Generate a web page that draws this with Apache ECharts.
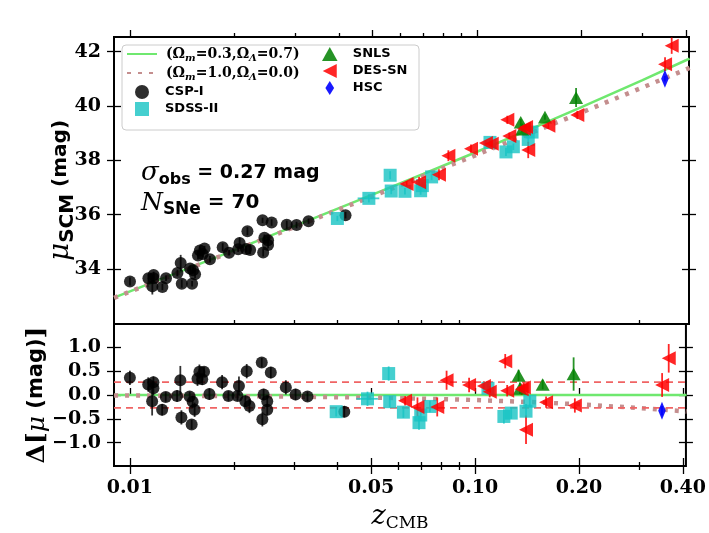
<!DOCTYPE html>
<html><head><meta charset="utf-8">
<script src="https://cdn.jsdelivr.net/npm/echarts@6/dist/echarts.min.js"></script>
<style>html,body{margin:0;padding:0;background:#fff}#c{width:709px;height:533px}</style>
</head><body><div id="c"></div>
<script>
// ---------------- data ----------------
const cspZ   = [0.0100,0.0113,0.0117,0.0117,0.0116,0.0124,0.0127,0.0137,0.0140,0.0141,0.0149,0.0152,0.0154,0.0151,0.0157,0.0159,0.0164,0.0170,0.0185,0.0193,0.0205,0.0207,0.0218,0.0216,0.0222,0.0241,0.0256,0.0244,0.0250,0.0250,0.0242,0.0283,0.0302,0.0327,0.0418,0.0162];
const cspMu  = [33.54,33.66,33.78,33.66,33.36,33.34,33.66,33.85,34.22,33.46,34.02,33.95,33.81,33.46,34.50,34.68,34.75,34.36,34.80,34.60,34.73,34.96,35.39,34.74,34.70,35.79,35.71,35.15,35.06,34.88,34.61,35.63,35.62,35.76,35.98,34.55];
const cspRes = [0.36,0.22,0.27,0.14,-0.13,-0.31,-0.04,-0.02,0.31,-0.47,-0.03,-0.14,-0.31,-0.62,0.34,0.49,0.49,0.02,0.27,-0.02,-0.02,0.19,0.50,-0.13,-0.23,0.68,0.47,0.01,-0.13,-0.31,-0.51,0.16,0.01,-0.03,-0.35,0.33];
const cspErr = [0.15,0.15,0.12,0.15,0.30,0.12,0.10,0.12,0.30,0.15,0.10,0.12,0.15,0.10,0.15,0.15,0.10,0.12,0.15,0.10,0.10,0.20,0.15,0.12,0.15,0.10,0.12,0.12,0.12,0.12,0.15,0.15,0.12,0.10,0.12,0.12];

const sdssZ    = [0.0396,0.0488,0.0562,0.0566,0.0620,0.0688,0.0696,0.0740,0.1090,0.1212,0.1273,0.1405,0.1441];
const sdssMu   = [35.86,36.60,37.45,36.87,36.86,36.88,37.07,37.39,38.66,38.31,38.50,38.77,39.04];
const sdssRes  = [-0.35,-0.08,0.45,-0.14,-0.36,-0.58,-0.42,-0.24,0.14,-0.45,-0.38,-0.34,-0.13];
const sdssErr  = [0.10,0.15,0.15,0.12,0.12,0.15,0.12,0.12,0.10,0.15,0.12,0.15,0.12];
const sdssZErr = [0,0.0035,0,0,0,0,0,0,0,0,0,0,0];

const snlsZ   = [0.1337,0.1349,0.1570,0.1930];
const snlsMu  = [39.40,39.15,39.59,40.31];
const snlsRes = [0.41,0.14,0.22,0.44];
const snlsErr = [0.12,0.12,0.10,0.35];

const desZ   = [0.0627,0.0681,0.0777,0.0827,0.0961,0.1061,0.1103,0.1223,0.1239,0.1365,0.1385,0.1405,0.1606,0.1946,0.3483,0.3640];
const desMu  = [37.13,37.19,37.47,38.17,38.43,38.64,38.61,39.49,38.90,39.16,39.23,38.38,39.27,39.67,41.54,42.22];
const desRes = [-0.12,-0.25,-0.25,0.31,0.21,0.19,0.07,0.71,0.09,0.12,0.16,-0.73,-0.15,-0.22,0.21,0.77];
const desErr = [0.10,0.20,0.20,0.20,0.15,0.10,0.12,0.15,0.12,0.12,0.10,0.30,0.12,0.15,0.25,0.30];

const hscZ   = [0.3480];
const hscMu  = [41.00];
const hscRes = [-0.33];
const hscErr = [0.10];

// model curves
const modelZ   = [0.009,0.01,0.02,0.03,0.05,0.07,0.10,0.15,0.20,0.30,0.40,0.41];
const muLCDM   = [32.944,33.175,34.697,35.594,36.735,37.496,38.315,39.266,39.956,40.956,41.684,41.748];
const muEdS    = [32.935,33.164,34.675,35.560,36.680,37.420,38.210,39.114,39.760,40.682,41.344,41.401];
const resLCDM  = [0,0,0,0,0,0,0,0,0,0,0,0];
const resEdS   = [-0.010,-0.011,-0.022,-0.034,-0.055,-0.076,-0.105,-0.152,-0.196,-0.274,-0.340,-0.347];

const sigmaObs = 0.27;

// ticks
const xMajor = [0.01,0.05,0.10,0.20,0.40];
const xMajorLabels = ['0.01','0.05','0.10','0.20','0.40'];
const xMinor = [0.02,0.03,0.04,0.06,0.07,0.08,0.09,0.3];
const yTopTicks = [34,36,38,40,42];
const yBotTicks = [-1.0,-0.5,0.0,0.5,1.0];

// ---------------- layout / styles ----------------
const xMin = 0.008994, xMax = 0.4083;
const lmin = Math.log10(xMin), lmax = Math.log10(xMax);
const SERIF = 'DejaVu Serif', SANS = 'DejaVu Sans';

const nameL = 'lcdm', nameE = 'eds';
const C = {
  csp: {color:'#000000', op:0.82},
  sdss:{color:'#17c3c3', op:0.8},
  snls:{color:'#008000', op:0.85},
  des: {color:'#ff0000', op:0.85},
  hsc: {color:'#0000ff', op:0.9}
};
const SYM = {
  square:'path://M0,0H10V10H0Z',
  tri:'path://M5,0L10,9L0,9Z',
  leftTri:'path://M0,5L10,0L10,10Z',
  diamond:'path://M5,0L10,8L5,16L0,8Z'
};

function pts(xs, ys){ return xs.map((x,i)=>[x, ys[i]]); }

function tickAxis(gridIndex, position, vals, len, offset, extra){
  return Object.assign({
    type:'value', gridIndex, position, min:lmin, max:lmax, offset,
    axisLine:{show:false}, splitLine:{show:false},
    axisTick:{show:true, inside:false, length:len, customValues: vals.map(v=>Math.log10(v)), lineStyle:{color:'#000', width:1.3}},
    axisLabel:{show:false}
  }, extra||{});
}

function errSeries(name, xs, ys, errs, xIdx, yIdx, color, op, xerrs){
  return {
    type:'custom', name, xAxisIndex:xIdx, yAxisIndex:yIdx, z:3, silent:true, clip:true,
    data: xs.map((x,i)=>[x, ys[i], errs[i], xerrs ? xerrs[i] : 0]),
    encode:{x:0, y:1},
    renderItem:(params, api)=>{
      const x = api.value(0), y = api.value(1), e = api.value(2), xe = api.value(3);
      const a = api.coord([x, y - e]), b = api.coord([x, y + e]);
      const children = [{type:'line', shape:{x1:a[0],y1:a[1],x2:b[0],y2:b[1]}, style:{stroke:color, lineWidth:1.8, opacity:op}}];
      if (xe > 0){
        const c = api.coord([x - xe, y]), d = api.coord([x + xe, y]);
        children.push({type:'line', shape:{x1:c[0],y1:c[1],x2:d[0],y2:d[1]}, style:{stroke:color, lineWidth:1.8, opacity:op}});
      }
      return {type:'group', children};
    }
  };
}

function scatter(name, xs, ys, xIdx, yIdx, sty, symbol, size){
  return {
    type:'scatter', name, xAxisIndex:xIdx, yAxisIndex:yIdx, z:4,
    data: pts(xs, ys), symbol, symbolSize:size, symbolKeepAspect:true,
    itemStyle:{color:sty.color, opacity:sty.op}
  };
}

const series = [
  // top panel models
  {type:'line', name:nameL, xAxisIndex:0, yAxisIndex:0, data:pts(modelZ, muLCDM), symbol:'none', z:2,
   itemStyle:{color:'#6fe86f', opacity:0}, lineStyle:{color:'#6fe86f', width:2.5}},
  {type:'line', name:nameE, xAxisIndex:0, yAxisIndex:0, data:pts(modelZ, muEdS), symbol:'none', z:2,
   itemStyle:{color:'#c48e8e', opacity:0}, lineStyle:{color:'#c48e8e', width:4.5, type:[4,7]}},
  // bottom panel models + sigma lines
  {type:'line', name:'lcdm-res', xAxisIndex:1, yAxisIndex:2, data:pts(modelZ, resLCDM), symbol:'none', z:2,
   lineStyle:{color:'#6fe86f', width:2.5}},
  {type:'line', name:'eds-res', xAxisIndex:1, yAxisIndex:2, data:pts(modelZ, resEdS), symbol:'none', z:2,
   lineStyle:{color:'#c48e8e', width:4.5, type:[4,7]}},
  {type:'line', name:'sig+', xAxisIndex:1, yAxisIndex:2, data:[[xMin, sigmaObs],[xMax, sigmaObs]], symbol:'none', z:2,
   lineStyle:{color:'#f06464', width:1.6, type:[7,5]}},
  {type:'line', name:'sig-', xAxisIndex:1, yAxisIndex:2, data:[[xMin, -sigmaObs],[xMax, -sigmaObs]], symbol:'none', z:2,
   lineStyle:{color:'#f06464', width:1.6, type:[7,5]}},

  scatter('CSP-I', cspZ, cspMu, 0, 0, C.csp, 'circle', 12),
  scatter('SDSS-II', sdssZ, sdssMu, 0, 0, C.sdss, SYM.square, 13),
  scatter('SNLS', snlsZ, snlsMu, 0, 0, C.snls, SYM.tri, 14),
  scatter('DES-SN', desZ, desMu, 0, 0, C.des, SYM.leftTri, 14),
  scatter('HSC', hscZ, hscMu, 0, 0, C.hsc, SYM.diamond, [12,18]),

  scatter('CSP-I', cspZ, cspRes, 1, 2, C.csp, 'circle', 12),
  scatter('SDSS-II', sdssZ, sdssRes, 1, 2, C.sdss, SYM.square, 13),
  scatter('SNLS', snlsZ, snlsRes, 1, 2, C.snls, SYM.tri, 14),
  scatter('DES-SN', desZ, desRes, 1, 2, C.des, SYM.leftTri, 14),
  scatter('HSC', hscZ, hscRes, 1, 2, C.hsc, SYM.diamond, [12,18]),

  errSeries('e1', cspZ, cspMu, cspErr, 0, 0, '#000', 0.8),
  errSeries('e2', sdssZ, sdssMu, sdssErr, 0, 0, C.sdss.color, 0.8, sdssZErr),
  errSeries('e3', snlsZ, snlsMu, snlsErr, 0, 0, C.snls.color, 0.85),
  errSeries('e4', desZ, desMu, desErr, 0, 0, C.des.color, 0.85),
  errSeries('e5', hscZ, hscMu, hscErr, 0, 0, C.hsc.color, 0.9),
  errSeries('f1', cspZ, cspRes, cspErr, 1, 2, '#000', 0.8),
  errSeries('f2', sdssZ, sdssRes, sdssErr, 1, 2, C.sdss.color, 0.8, sdssZErr),
  errSeries('f3', snlsZ, snlsRes, snlsErr, 1, 2, C.snls.color, 0.85),
  errSeries('f4', desZ, desRes, desErr, 1, 2, C.des.color, 0.85),
  errSeries('f5', hscZ, hscRes, hscErr, 1, 2, C.hsc.color, 0.9)
];

const tickFont = {fontFamily:SERIF, fontWeight:'bold', fontSize:19, color:'#000'};

const option = {
  animation:false,
  backgroundColor:'#fff',
  grid:[
    {left:114, top:37, width:575, height:287, show:true, borderColor:'#000', borderWidth:2, backgroundColor:'rgba(0,0,0,0)'},
    {left:114, top:324, width:575, height:142, show:true, borderColor:'#000', borderWidth:2, backgroundColor:'rgba(0,0,0,0)'}
  ],
  xAxis:[
    {type:'log', logBase:10, gridIndex:0, min:xMin, max:xMax, show:false},
    {type:'log', logBase:10, gridIndex:1, min:xMin, max:xMax, show:false},
    tickAxis(0, 'top', xMajor, 7, 0),
    tickAxis(0, 'top', xMinor, 4, 0),
    tickAxis(1, 'top', xMajor, 7, 0),
    tickAxis(1, 'top', xMinor, 4, 0),
    tickAxis(1, 'bottom', xMajor, 16, -8, {
      axisLabel:{show:true, customValues: xMajor.map(v=>Math.log10(v)), margin:21,
        formatter:(v)=>{ const i = xMajor.findIndex(t=>Math.abs(Math.log10(t)-v)<1e-6); return i>=0 ? xMajorLabels[i] : ''; },
        ...tickFont},
      name:'{z|z}{s|CMB}', nameLocation:'middle', nameGap:44, nameMoveOverlap:false,
      nameTextStyle:{rich:{
        z:{fontFamily:SERIF, fontStyle:'italic', fontSize:27, lineHeight:30, verticalAlign:'middle', color:'#000'},
        s:{fontFamily:SERIF, fontSize:17, lineHeight:30, verticalAlign:'bottom', color:'#000'}
      }}
    }),
    tickAxis(1, 'bottom', xMinor, 8, -4)
  ],
  yAxis:[
    {type:'value', gridIndex:0, position:'left', min:31.975, max:42.54, offset:-7,
     axisLine:{show:false}, splitLine:{show:false},
     axisTick:{show:true, inside:false, length:14, customValues:yTopTicks, lineStyle:{color:'#000', width:1.3}},
     axisLabel:{show:true, customValues:yTopTicks, margin:20, ...tickFont},
     name:'{m|μ}{s|SCM}{t| (mag)}', nameLocation:'middle', nameRotate:90, nameGap:43, nameMoveOverlap:false,
     nameTextStyle:{padding:[0,20,0,0], rich:{
       m:{fontFamily:SERIF, fontStyle:'italic', fontSize:28, lineHeight:34, verticalAlign:'middle', color:'#000'},
       s:{fontFamily:SANS, fontWeight:'bold', fontSize:20, lineHeight:34, verticalAlign:'bottom', color:'#000'},
       t:{fontFamily:SANS, fontWeight:'bold', fontSize:20, lineHeight:34, verticalAlign:'middle', color:'#000'}
     }}
    },
    {type:'value', gridIndex:0, position:'right', min:31.975, max:42.54, offset:-7,
     axisLine:{show:false}, splitLine:{show:false},
     axisTick:{show:true, inside:false, length:14, customValues:yTopTicks, lineStyle:{color:'#000', width:1.3}},
     axisLabel:{show:false}},
    {type:'value', gridIndex:1, position:'left', min:-1.49, max:1.49, offset:-7,
     axisLine:{show:false}, splitLine:{show:false},
     axisTick:{show:true, inside:false, length:14, customValues:yBotTicks, lineStyle:{color:'#000', width:1.3}},
     axisLabel:{show:true, customValues:yBotTicks, margin:20, ...tickFont,
       formatter:(v)=> (v<0 ? '\u2212' : '') + Math.abs(v).toFixed(1)},
     name:'{d|Δ[}{m|μ}{t| (mag)}{d|]}', nameLocation:'middle', nameRotate:90, nameGap:68, nameMoveOverlap:false,
     nameTextStyle:{rich:{
       d:{fontFamily:SERIF, fontWeight:'bold', fontSize:25, lineHeight:32, color:'#000'},
       m:{fontFamily:SERIF, fontStyle:'italic', fontSize:25, lineHeight:32, color:'#000'},
       t:{fontFamily:SANS, fontWeight:'bold', fontSize:21, lineHeight:32, color:'#000'}
     }}
    },
    {type:'value', gridIndex:1, position:'right', min:-1.49, max:1.49, offset:-7,
     axisLine:{show:false}, splitLine:{show:false},
     axisTick:{show:true, inside:false, length:14, customValues:yBotTicks, lineStyle:{color:'#000', width:1.3}},
     axisLabel:{show:false}}
  ],
  legend:[
    {data:[{name:nameL, itemStyle:{opacity:0}}, {name:nameE, itemStyle:{opacity:0}}, 'CSP-I', 'SDSS-II'],
     left:126, top:47, orient:'vertical',
     itemWidth:30, itemHeight:14, itemGap:3, padding:0, selectedMode:false, z:10,
     formatter:(n)=>{
       if (n===nameL) return '{p0|(Ω}{s|m}{p|=0.3,Ω}{s|Λ}{p|=0.7)}';
       if (n===nameE) return '{p0|(Ω}{s|m}{p|=1.0,Ω}{s|Λ}{p|=0.0)}';
       return '{t|' + n + '}';
     },
     textStyle:{rich:{
       p0:{fontFamily:SERIF, fontWeight:'bold', fontSize:14, lineHeight:18, verticalAlign:'middle', color:'#000', padding:[0,0,0,4]},
       p:{fontFamily:SERIF, fontWeight:'bold', fontSize:14, lineHeight:18, verticalAlign:'middle', color:'#000'},
       s:{fontFamily:SERIF, fontStyle:'italic', fontWeight:'bold', fontSize:10, lineHeight:18, verticalAlign:'bottom', color:'#000'},
       t:{fontFamily:SANS, fontWeight:'bold', fontSize:13, lineHeight:18, color:'#000', padding:[0,0,0,3]}
     }}},
    {data:['SNLS','DES-SN','HSC'], left:322, top:47, orient:'vertical',
     itemWidth:30, itemHeight:14, itemGap:3, padding:0, selectedMode:false, z:10,
     formatter:(n)=>'{t|' + n + '}',
     textStyle:{rich:{
       t:{fontFamily:SANS, fontWeight:'bold', fontSize:13, lineHeight:18, color:'#000', padding:[0,0,0,3]}
     }}}
  ],
  graphic:[
    {type:'rect', shape:{x:122, y:45, width:297, height:85, r:4}, style:{fill:'rgba(255,255,255,0.85)', stroke:'#cccccc', lineWidth:1}, z:5},
    {type:'text', x:141, y:173, z:6, style:{
      text:'{a|σ}{b|obs}{c| = ' + sigmaObs.toFixed(2) + ' mag}', verticalAlign:'middle',
      rich:{
        a:{fontFamily:SERIF, fontStyle:'italic', fontSize:26, lineHeight:30, verticalAlign:'middle', fill:'#000'},
        b:{fontFamily:SANS, fontWeight:'bold', fontSize:16, lineHeight:30, verticalAlign:'bottom', fill:'#000'},
        c:{fontFamily:SANS, fontWeight:'bold', fontSize:19, lineHeight:30, verticalAlign:'middle', fill:'#000'}
      }}},
    {type:'text', x:141, y:203, z:6, style:{
      text:'{a|N}{b|SNe}{c| = ' + (cspZ.length + sdssZ.length + snlsZ.length + desZ.length + hscZ.length) + '}', verticalAlign:'middle',
      rich:{
        a:{fontFamily:SERIF, fontStyle:'italic', fontSize:25, lineHeight:30, verticalAlign:'middle', fill:'#000'},
        b:{fontFamily:SANS, fontWeight:'bold', fontSize:17, lineHeight:30, verticalAlign:'bottom', fill:'#000'},
        c:{fontFamily:SANS, fontWeight:'bold', fontSize:20, lineHeight:30, verticalAlign:'middle', fill:'#000'}
      }}}
  ],
  series
};

const chart = echarts.init(document.getElementById('c'), null, {renderer:'canvas'});
chart.setOption(option);
</script>
</body></html>
